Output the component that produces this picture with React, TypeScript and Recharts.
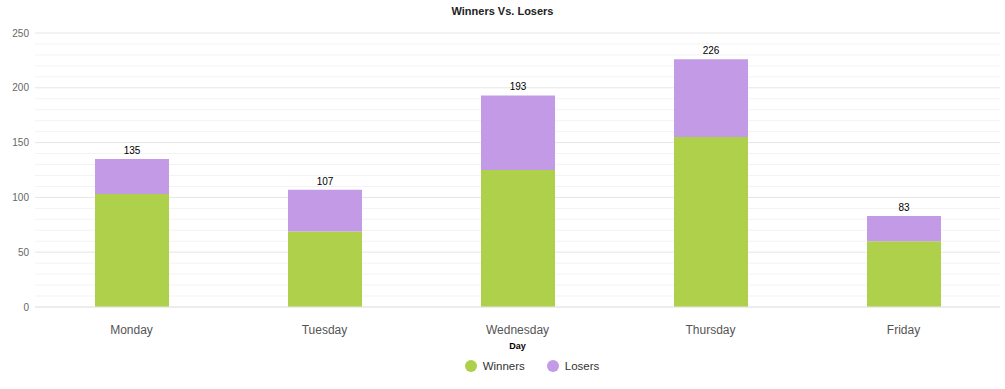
import {
  BarChart,
  Bar,
  XAxis,
  YAxis,
  CartesianGrid,
  LabelList,
  Legend
} from "recharts"

const days = ["Monday", "Tuesday", "Wednesday", "Thursday", "Friday"]
const winners = [103, 69, 125, 155, 60]
const losers = [32, 38, 68, 71, 23]
const totals = [135, 107, 193, 226, 83]

// gridlines every 10, labels every 50
const yTicks = [0, 10, 20, 30, 40, 50, 60, 70, 80, 90, 100, 110, 120, 130, 140, 150, 160, 170, 180, 190, 200, 210, 220, 230, 240, 250]

const GREEN = "#aed04b"
const PURPLE = "#c39ae6"

const data = days.map((day, i) => ({
  day,
  winners: winners[i],
  losers: losers[i],
  total: totals[i]
}))

function LegendBox() {
  return (
    <div style={{ height: 36, display: "flex", justifyContent: "center", alignItems: "flex-start", paddingLeft: 64 }}>
      {[
        { name: "Winners", color: GREEN },
        { name: "Losers", color: PURPLE }
      ].map((item) => (
        <div key={item.name} style={{ display: "flex", alignItems: "center", height: 25, margin: "0 11px" }}>
          <span
            style={{
              width: 12,
              height: 12,
              borderRadius: 6,
              background: item.color,
              display: "inline-block",
              marginRight: 6
            }}
          />
          <span style={{ fontSize: 11.5, color: "#333" }}>{item.name}</span>
        </div>
      ))}
    </div>
  )
}

function YTick({ x, y, payload }: any) {
  if (payload.value % 50 !== 0) return null
  return (
    <text x={x} y={y} dy="0.355em" textAnchor="end" fontSize={10} fill="#666">
      {payload.value}
    </text>
  )
}

function GridLine(props: any) {
  const { x1, y1, x2, y2, index } = props
  const major = typeof index === "number" && index % 5 === 0
  return (
    <line
      x1={x1}
      y1={y1}
      x2={x2}
      y2={y2}
      fill="none"
      stroke={major ? "#e6e6e6" : "#f3f3f3"}
      strokeWidth={1}
    />
  )
}

export default function App() {
  return (
    <div
      style={{
        position: "absolute",
        left: 0,
        top: 0,
        width: 1005,
        height: 389,
        background: "#fff",
        fontFamily: "'Liberation Sans', Arial, sans-serif"
      }}
    >
      <div
        style={{
          position: "absolute",
          top: 5,
          left: 0,
          width: 1005,
          textAlign: "center",
          fontSize: 11,
          fontWeight: "bold",
          color: "#222"
        }}
      >
        Winners Vs. Losers
      </div>
      <BarChart
        width={1005}
        height={389}
        data={data}
        margin={{ top: 33, right: 5, bottom: 0, left: 0 }}
      >
        <CartesianGrid vertical={false} horizontal={GridLine} />
        <XAxis
          dataKey="day"
          height={46}
          tickLine={false}
          axisLine={{ stroke: "#e6e6e6" }}
          tickMargin={12}
          tick={{ fontSize: 12, fill: "#555" }}
          label={{ value: "Day", position: "insideBottom", offset: 4, fontSize: 9, fontWeight: "bold", fill: "#000" }}
        />
        <YAxis
          width={35}
          domain={[0, 250]}
          ticks={yTicks}
          interval={0}
          tickLine={false}
          axisLine={false}
          tickSize={4}
          tick={<YTick />}
        />
        <Legend verticalAlign="bottom" content={<LegendBox />} />
        <Bar dataKey="winners" stackId="a" fill={GREEN} barSize={74} isAnimationActive={false} />
        <Bar dataKey="losers" stackId="a" fill={PURPLE} barSize={74} isAnimationActive={false}>
          <LabelList dataKey="total" position="top" offset={5} fontSize={10} fill="#000" />
        </Bar>
      </BarChart>
    </div>
  )
}
